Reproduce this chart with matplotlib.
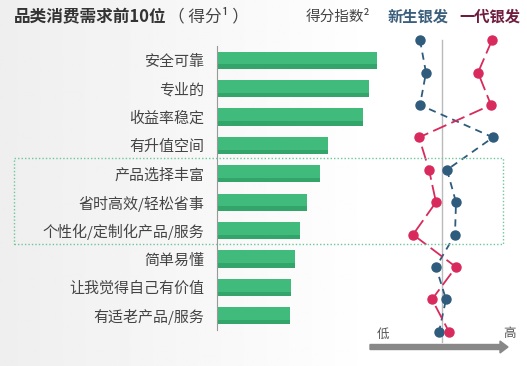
import numpy as np
import matplotlib.pyplot as plt
from matplotlib.patches import Rectangle

plt.rcParams['font.family'] = ['Noto Sans CJK SC', 'DejaVu Sans']

# data
categories = ['安全可靠', '专业的', '收益率稳定', '有升值空间', '产品选择丰富',
              '省时高效/轻松省事', '个性化/定制化产品/服务', '简单易懂',
              '让我觉得自己有价值', '有适老产品/服务']
scores = [160, 152, 146, 111, 103, 90, 83, 78, 74, 73]
# score index, relative to the average line
new_silver = [-22, -16, -22, 51, 5, 14, 13, -6, 4, -3]
old_silver = [50, 36, 49, -23, -13, -6, -29, 14, -10, 7]

W, H = 527, 366
fig = plt.figure(figsize=(W / 100, H / 100), dpi=100)

# soft grey background fading to white
bg = fig.add_axes([0, 0, 1, 1], zorder=-10)
grad = np.linspace(0, 1, 256)
grad = np.clip(grad / 0.72, 0, 1)
img = np.tile(0.935 + 0.065 * grad, (10, 1))
bg.imshow(img, cmap='gray', vmin=0, vmax=1, aspect='auto', extent=[0, 1, 0, 1])
bg.axis('off')

def fx(px):
    return px / W

def fy(py):
    return 1 - py / H

# bar chart
y = np.arange(len(categories))
ax = fig.add_axes([fx(217), fy(330), fx(377 - 217), (330 - 46) / H])
ax.barh(y, scores, height=0.6, color='#40bb7c')
ax.barh(y + 0.225, scores, height=0.15, color='#33a56b')
ax.set_xlim(0, 160)
ax.set_ylim(9.5, -0.5)
ax.set_yticks(y)
ax.set_yticklabels(categories, fontsize=10.8, color='#444444')
ax.tick_params(axis='y', length=0, pad=9)
ax.set_xticks([])
for s in ['top', 'right', 'bottom']:
    ax.spines[s].set_visible(False)
ax.spines['left'].set_color('#999999')
ax.patch.set_alpha(0)

# dot chart
ax2 = fig.add_axes([fx(370), fy(348), fx(145), (348 - 24) / H])
ax2.set_xlim(-72, 73)
ax2.set_ylim(9.5, -0.5)
ax2.axis('off')
ax2.plot([0, 0], [0, 9.3], color='#bbbbbb', lw=1, zorder=1)
ax2.plot(new_silver, y, color='#2f5b7c', lw=1.3, ls=(0, (4, 3)),
         marker='o', ms=6.5, zorder=3)
ax2.plot(old_silver, y, color='#d82a5c', lw=1.3, ls=(0, (8, 3)),
         marker='o', ms=6.5, zorder=3)

# highlight box
fig.patches.append(Rectangle((fx(14), fy(244)), fx(503 - 14), (244 - 158) / H,
                             transform=fig.transFigure, fill=False,
                             edgecolor='#6cc79b', lw=1, ls=(0, (1, 1.5))))

# low / high arrow
fig.patches.append(plt.matplotlib.patches.FancyArrow(
    fx(370), fy(347), fx(138), 0, width=5 / H, head_width=12 / H,
    head_length=fx(8), length_includes_head=True, color='#888888',
    transform=fig.transFigure))
fig.text(fx(383), fy(334), '低', fontsize=9, color='#555555', ha='center', va='center')
fig.text(fx(509), fy(334), '高', fontsize=9, color='#555555', ha='center', va='center')

# titles
fig.text(fx(14), fy(17), '品类消费需求前10位', fontsize=12, fontweight='bold',
         color='#333333', va='center')
fig.text(fx(168), fy(17), '（ 得分¹ ）', fontsize=12, color='#444444', va='center')
fig.text(fx(306), fy(17), '得分指数²', fontsize=10.5, color='#444444', va='center')
fig.text(fx(388), fy(17), '新生银发', fontsize=11, fontweight='bold',
         color='#3b5f7c', va='center')
fig.text(fx(459), fy(17), '一代银发', fontsize=11, fontweight='bold',
         color='#6e1d3e', va='center')

fig.savefig('out.png', dpi=100)
